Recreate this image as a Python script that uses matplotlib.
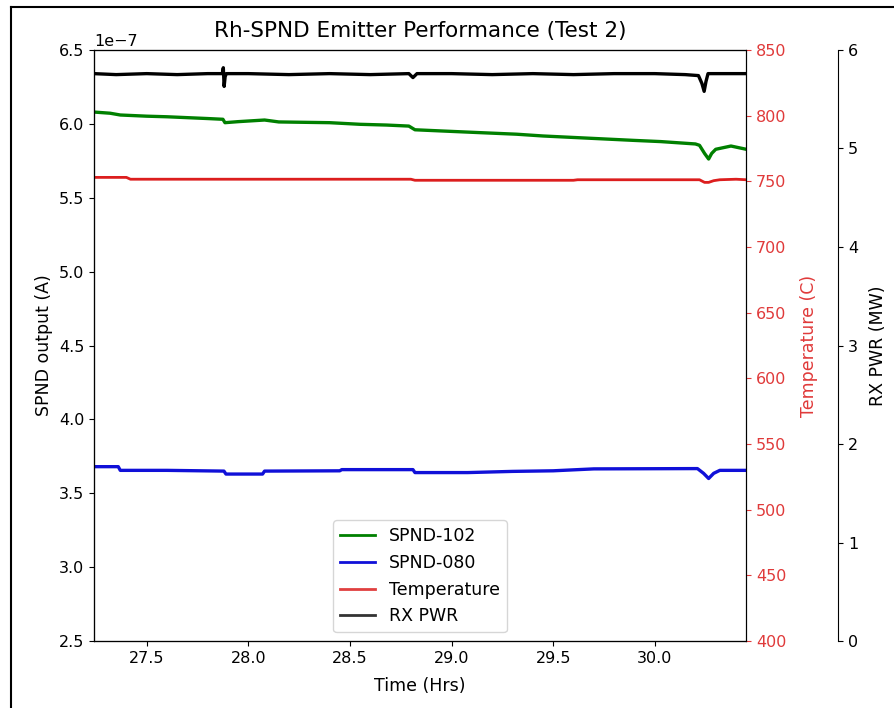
import matplotlib
matplotlib.use('Agg')
from matplotlib import pyplot as plt
from matplotlib.lines import Line2D

# SPND-102 output, units of 1e-7 A
t_102 = [27.24, 27.32, 27.37, 27.50, 27.60, 27.70, 27.80, 27.875, 27.885, 27.95,
         28.08, 28.15, 28.30, 28.40, 28.55, 28.68, 28.79, 28.82, 28.95, 29.15,
         29.32, 29.45, 29.60, 29.78, 29.90, 30.03, 30.20, 30.22, 30.245, 30.265,
         30.28, 30.30, 30.375, 30.45]
spnd_102 = [6.080, 6.072, 6.060, 6.052, 6.048, 6.042, 6.036, 6.031, 6.008, 6.015,
            6.026, 6.013, 6.010, 6.008, 5.997, 5.992, 5.985, 5.960, 5.952, 5.940,
            5.930, 5.918, 5.908, 5.896, 5.888, 5.880, 5.864, 5.855, 5.800, 5.762,
            5.800, 5.828, 5.850, 5.828]

# SPND-080 output, units of 1e-7 A
t_080 = [27.24, 27.36, 27.37, 27.60, 27.88, 27.89, 28.07, 28.08, 28.45, 28.46,
         28.81, 28.82, 29.08, 29.30, 29.50, 29.70, 30.21, 30.24, 30.265, 30.29,
         30.32, 30.45]
spnd_080 = [3.680, 3.680, 3.655, 3.655, 3.650, 3.630, 3.630, 3.650, 3.652, 3.660,
            3.660, 3.640, 3.640, 3.648, 3.652, 3.665, 3.667, 3.635, 3.600, 3.635,
            3.655, 3.655]

# emitter temperature, C
t_temp = [27.24, 27.40, 27.42, 28.00, 28.80, 28.82, 29.20, 29.60, 29.62, 30.00,
          30.22, 30.245, 30.265, 30.29, 30.32, 30.40, 30.45]
temp = [753.0, 753.0, 751.6, 751.6, 751.6, 750.8, 750.8, 750.8, 751.2, 751.2,
        751.2, 749.2, 749.2, 750.5, 751.2, 751.6, 751.2]

# reactor power, MW
t_pwr = [27.24, 27.35, 27.50, 27.65, 27.80, 27.872, 27.877, 27.881, 27.886, 27.892,
         28.00, 28.20, 28.40, 28.60, 28.79, 28.81, 28.83, 29.00, 29.20, 29.40,
         29.60, 29.80, 30.00, 30.15, 30.215, 30.232, 30.243, 30.252, 30.262, 30.30,
         30.45]
rx_pwr = [5.76, 5.75, 5.76, 5.75, 5.76, 5.76, 5.82, 5.63, 5.73, 5.76,
          5.76, 5.75, 5.76, 5.75, 5.76, 5.72, 5.76, 5.76, 5.75, 5.76,
          5.75, 5.76, 5.76, 5.75, 5.74, 5.66, 5.58, 5.68, 5.76, 5.76,
          5.76]

x_ticks = [27.5, 28.0, 28.5, 29.0, 29.5, 30.0]
temp_ticks = [400, 450, 500, 550, 600, 650, 700, 750, 800, 850]
pwr_ticks = [0, 1, 2, 3, 4, 5, 6]

red = '#dc1e1e'
plt.rcParams['font.size'] = 11.5
plt.rcParams['axes.labelsize'] = 12.5

fig = plt.figure(figsize=(8.94, 7.08), dpi=100)
ax = fig.add_axes([0.105, 0.0946, 0.7297, 0.8348])
ax_temp = ax.twinx()
ax_pwr = ax.twinx()
ax_pwr.spines['right'].set_position(('axes', 1.141))

ax.plot(t_102, [v * 1e-7 for v in spnd_102], color='green', lw=2.4)
ax.plot(t_080, [v * 1e-7 for v in spnd_080], color='#1010d8', lw=2.4)
ax_temp.plot(t_temp, temp, color=red, lw=2.0)
ax_pwr.plot(t_pwr, rx_pwr, color='black', lw=2.4)

ax.set_xlim(27.24, 30.45)
ax.set_xticks(x_ticks)
ax.set_ylim(2.5e-7, 6.5e-7)
ax_temp.set_ylim(400, 850)
ax_temp.set_yticks(temp_ticks)
ax_pwr.set_ylim(0, 6)
ax_pwr.set_yticks(pwr_ticks)

ax.set_title('Rh-SPND Emitter Performance (Test 2)', fontsize=15.5, pad=9)
ax.set_xlabel('Time (Hrs)', labelpad=8)
ax.set_ylabel('SPND output (A)')
ax_temp.set_ylabel('Temperature (C)', color='#e03a3a', labelpad=10)
ax_temp.tick_params(axis='y', colors='#e03a3a')
ax_pwr.set_ylabel('RX PWR (MW)', labelpad=8)

handles = [Line2D([], [], color='green', lw=2),
           Line2D([], [], color='#1010d8', lw=2),
           Line2D([], [], color='#e04040', lw=2),
           Line2D([], [], color='#333333', lw=2)]
labels = ['SPND-102', 'SPND-080', 'Temperature', 'RX PWR']
ax_pwr.legend(handles, labels, loc='lower center', fontsize=12.5)

# screenshot frame
fig.add_artist(Line2D([11 / 894, 11 / 894], [0, 1 - 6.5 / 708],
                      transform=fig.transFigure, color='black', lw=1.5))
fig.add_artist(Line2D([11 / 894, 1], [1 - 6.5 / 708, 1 - 6.5 / 708],
                      transform=fig.transFigure, color='black', lw=1.5))

fig.savefig('out.png', dpi=100)
